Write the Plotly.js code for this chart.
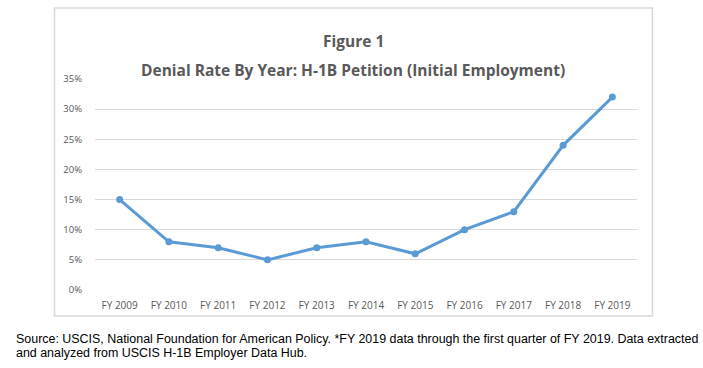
<!DOCTYPE html>
<html><head><meta charset="utf-8">
<script src="https://cdn.plot.ly/plotly-3.0.1.min.js"></script>
<style>html,body{margin:0;padding:0;background:#fff;}#chart{width:703px;height:368px;}</style>
</head><body><div id="chart"></div>
<script>
const years = ["FY 2009","FY 2010","FY 2011","FY 2012","FY 2013","FY 2014","FY 2015","FY 2016","FY 2017","FY 2018","FY 2019"];
const denialRate = [0.15,0.08,0.07,0.05,0.07,0.08,0.06,0.10,0.13,0.24,0.32];
const yTicks = [0,0.05,0.10,0.15,0.20,0.25,0.30,0.35];
const yTickLabels = ["0%","5%","10%","15%","20%","25%","30%","35%"];
const sourceLines = ["Source: USCIS, National Foundation for American Policy. *FY 2019 data through the first quarter of FY 2019. Data extracted",
 "and analyzed from USCIS H-1B Employer Data Hub."];

const W=703,H=368,L=95.4,R=66.4,T=79,B=78;
const pw=W-L-R, ph=H-T-B;
const px=x=>(x-L)/pw, py=y=>(H-B-y)/ph;

const trace={x:years,y:denialRate,type:'scatter',mode:'lines+markers',
 line:{color:'#5b9bd5',width:3},marker:{color:'#5b9bd5',size:7},hoverinfo:'skip'};

const layout={width:W,height:H,margin:{l:L,r:R,t:T,b:B},
 paper_bgcolor:'#fff',plot_bgcolor:'#fff',showlegend:false,
 xaxis:{type:'category',range:[-0.5,years.length-0.5],showgrid:false,zeroline:false,showline:false,ticks:'',
   ticklabelstandoff:8,
   tickfont:{family:'Open Sans',size:10,color:'#595959'},fixedrange:true},
 yaxis:{range:[0,0.35],tickvals:yTicks,ticktext:yTickLabels,showgrid:true,gridcolor:'#d9d9d9',gridwidth:1,
   zeroline:false,showline:false,ticks:'',ticklabelstandoff:12,
   tickfont:{family:'Open Sans',size:9.5,color:'#595959'},fixedrange:true},
 shapes:[{type:'rect',xref:'paper',yref:'paper',x0:px(55),x1:px(652),y0:py(316),y1:py(8),
   line:{color:'#d9d9d9',width:1.5},fillcolor:'rgba(0,0,0,0)',layer:'below'}],
 annotations:[
  {text:'<b>Figure 1</b>',xref:'paper',yref:'paper',x:px(353.5),y:py(41),showarrow:false,xanchor:'center',yanchor:'middle',
   font:{family:'Open Sans',size:15.5,color:'#595959'}},
  {text:'<b>Denial Rate By Year: H-1B Petition (Initial Employment)</b>',xref:'paper',yref:'paper',x:px(353.5),y:py(70),showarrow:false,xanchor:'center',yanchor:'middle',
   font:{family:'Open Sans',size:15.5,color:'#595959'}},
  {text:sourceLines[0],xref:'paper',yref:'paper',x:px(15),y:py(339),showarrow:false,xanchor:'left',yanchor:'middle',align:'left',
   font:{family:'Liberation Sans, Arial',size:12.45,color:'#000'}},
  {text:sourceLines[1],xref:'paper',yref:'paper',x:px(15),y:py(353),showarrow:false,xanchor:'left',yanchor:'middle',align:'left',
   font:{family:'Liberation Sans, Arial',size:12.45,color:'#000'}}
 ]};
Plotly.newPlot('chart',[trace],layout,{staticPlot:true,displayModeBar:false});
</script></body></html>
